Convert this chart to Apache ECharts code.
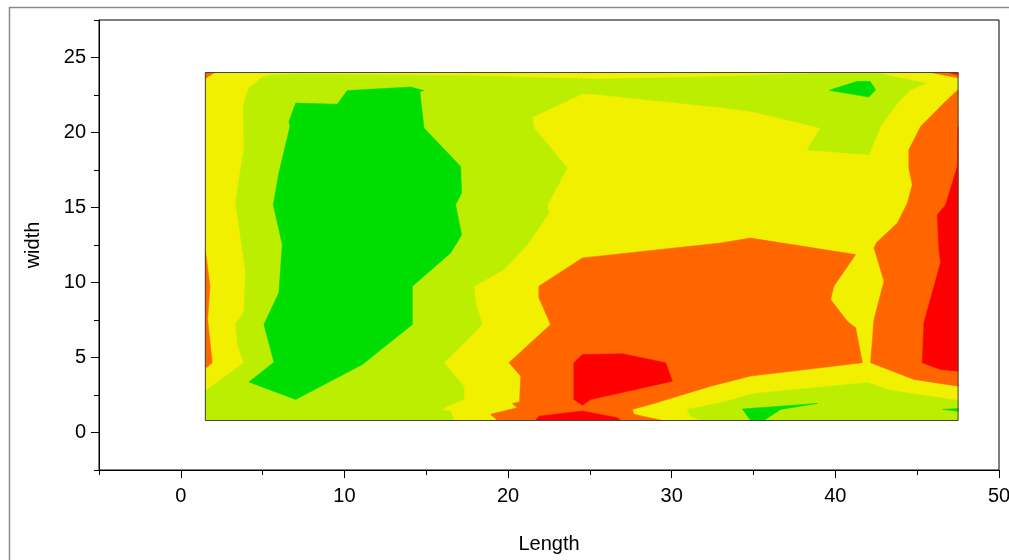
<!DOCTYPE html>
<html>
<head>
<meta charset="utf-8">
<script src="https://cdn.jsdelivr.net/npm/echarts@6/dist/echarts.min.js"></script>
<style>
  html, body { margin: 0; padding: 0; background: #fff; }
  #chart { width: 1009px; height: 560px; }
</style>
</head>
<body>
<div id="chart"></div>
<script>
// tick labels
const xLabels = [0, 10, 20, 30, 40, 50];
const xMinor = [-5, 5, 15, 25, 35, 45];
const yLabels = [0, 5, 10, 15, 20, 25];
const yMinor = [-2.5, 2.5, 7.5, 12.5, 17.5, 22.5, 27.5];

// contour levels, low -> high
const levelColors = ['#00dd00', '#bbee00', '#f0f000', '#ff6600', '#ff0000'];

// filled contour regions, [Length, width] outline points
const plotArea = [[1.5, 0.8], [47.5, 0.8], [47.5, 24], [1.5, 24]];
const lightGreenMain = [
  [1.5, 2.76], [3.86, 4.65], [3.49, 5.75], [3.35, 7.2], [3.86, 8.08], [3.96, 10.75], [3.72, 12.53],
  [3.35, 15.3], [3.65, 17.52], [3.86, 18.85], [3.82, 21.85], [4.16, 22.96], [4.98, 23.69], [5.29, 23.8],
  [7.02, 23.89], [17.71, 23.78], [25.45, 23.56], [32.99, 23.73], [38.49, 23.91], [42.76, 23.91],
  [45.51, 23.29], [44.6, 22.85], [43.79, 21.96], [42.76, 20.4], [42.05, 18.52], [38.29, 18.85],
  [39.1, 20.3], [34.92, 21.4], [32.99, 21.67], [25.24, 22.56], [24.54, 22.58], [21.48, 21.03],
  [21.58, 20.3], [22.19, 19.52], [23.62, 17.63], [22.4, 15.19], [22.49, 14.64], [21.19, 12.53],
  [19.74, 10.86], [17.91, 9.75], [18.02, 8.64], [18.42, 7.2], [17.71, 6.42], [16.08, 4.65],
  [17.3, 3.09], [17.3, 2.2], [16.29, 1.76], [15.88, 1.49], [16.49, 1.43], [16.69, 0.8], [1.5, 0.8]
];
const lightGreenBottomRight = [
  [30.95, 1.54], [32.99, 1.98], [35.02, 2.6], [41.95, 3.32], [43.38, 2.8], [47.5, 2.14],
  [47.5, 0.8], [31.77, 0.8], [31.15, 1.09]
];
const orangeMiddle = [
  [19.36, 0.8], [18.93, 1.21], [20.56, 1.65], [20.26, 1.94], [20.7, 2.04], [20.77, 3.76], [20.05, 4.65],
  [22.6, 7.2], [21.88, 8.98], [21.88, 9.75], [24.54, 11.64], [32.99, 12.64], [34.82, 12.96],
  [41.24, 11.86], [39.91, 9.75], [39.71, 8.86], [40.73, 7.42], [41.24, 6.98], [41.65, 4.65],
  [34.82, 3.76], [32.38, 3.09], [28.71, 1.87], [27.59, 1.54], [27.69, 1.21], [29.44, 0.8]
];
const orangeRight = [
  [47.5, 22.85], [46.63, 21.96], [45.21, 20.4], [44.49, 18.85], [44.49, 17.63], [44.7, 16.52],
  [44.4, 15.3], [43.79, 13.97], [42.52, 12.66], [42.36, 12.31], [42.97, 10.08], [42.36, 7.53],
  [42.15, 4.65], [44.8, 3.54], [47.5, 3.09]
];
const orangeLeftEdge = [[1.5, 12.19], [1.78, 9.75], [1.64, 7.53], [1.92, 4.65], [1.62, 4.36], [1.5, 4.34]];
const orangeTopLeft = [[1.5, 24], [2.07, 24], [1.61, 23.68], [1.5, 23.58]];
const orangeTopRight = [[45.82, 24], [47.5, 24], [47.5, 23.65]];
const redTopRight = [[46.9, 24], [47.5, 24], [47.5, 23.85]];
const redMiddle = [
  [24.54, 5.2], [26.98, 5.25], [29.63, 4.65], [30.04, 3.42], [25.04, 2.2], [24.54, 1.82],
  [24.02, 2.2], [24.02, 4.65]
];
const redBottom = [[21.68, 0.8], [21.88, 1.09], [24.54, 1.43], [26.67, 0.99], [26.88, 0.8]];
const redRight = [
  [47.5, 20.4], [47.45, 17.74], [46.74, 15.19], [46.23, 14.52], [46.33, 12.19], [46.43, 11.33],
  [45.41, 7.31], [45.31, 4.65], [46.43, 4.2], [47.5, 4.09]
];
const greenCore = [
  [7.02, 21.96], [9.56, 21.89], [10.17, 22.8], [14.04, 23.03], [14.86, 22.8], [14.61, 22.73],
  [14.86, 20.3], [17.1, 17.74], [17.16, 15.97], [16.79, 15.19], [17.16, 13.19], [16.99, 12.86],
  [16.49, 11.97], [14.15, 9.75], [14.15, 7.2], [11.09, 4.53], [7.02, 2.2], [4.16, 3.36],
  [5.69, 4.69], [5.08, 7.2], [5.99, 9.31], [6.2, 12.53], [5.65, 15.19], [5.99, 17.3],
  [6.67, 20.4], [6.61, 20.74]
];
const greenTopRight = [[39.61, 22.81], [41.34, 23.41], [42.12, 23.41], [42.46, 22.85], [42.05, 22.36]];
const greenBottom = [[34.31, 1.57], [38.9, 1.94], [36.65, 1.54], [35.63, 0.8], [34.82, 0.8]];
const greenBottomRight = [[46.55, 1.54], [47.5, 1.6], [47.5, 1.41]];

// drawing order: [level index, outline]
const layers = [
  [2, plotArea],
  [1, lightGreenMain],
  [1, lightGreenBottomRight],
  [3, orangeMiddle],
  [3, orangeRight],
  [3, orangeLeftEdge],
  [3, orangeTopLeft],
  [3, orangeTopRight],
  [4, redTopRight],
  [4, redMiddle],
  [4, redBottom],
  [4, redRight],
  [0, greenCore],
  [0, greenTopRight],
  [0, greenBottom],
  [0, greenBottomRight],
  [-1, plotArea] // frame
];

const labelFont = { fontSize: 20, color: '#000', fontFamily: 'Liberation Sans, Arial, sans-serif' };

const chart = echarts.init(document.getElementById('chart'));
const option = {
  animation: false,
  backgroundColor: '#fff',
  graphic: [
    {
      type: 'rect',
      left: 7, top: 5,
      shape: { width: 1100, height: 700 },
      style: { fill: 'none', stroke: '#8c8c8c', lineWidth: 1.5 },
      silent: true
    }
  ],
  grid: {
    left: 99, top: 20, width: 900, height: 450,
    containLabel: false, outerBoundsMode: 'none',
    show: true, borderColor: '#000', borderWidth: 1, backgroundColor: '#fff'
  },
  xAxis: [
    {
      type: 'value', min: -5, max: 50, position: 'bottom',
      name: 'Length', nameLocation: 'middle', nameGap: 64,
      nameTextStyle: labelFont,
      axisLine: { onZero: false, lineStyle: { color: '#000', width: 1 } },
      axisTick: { customValues: xLabels, length: 8, lineStyle: { color: '#000' } },
      axisLabel: Object.assign({ customValues: xLabels, margin: 16 }, labelFont),
      splitLine: { show: false }
    },
    {
      type: 'value', min: -5, max: 50, position: 'bottom',
      axisLine: { show: false, onZero: false },
      axisTick: { customValues: xMinor, length: 5, lineStyle: { color: '#000' } },
      axisLabel: { show: false },
      splitLine: { show: false }
    }
  ],
  yAxis: [
    {
      type: 'value', min: -2.5, max: 27.5, position: 'left',
      name: 'width', nameLocation: 'middle', nameGap: 56,
      nameTextStyle: labelFont,
      axisLine: { show: true, onZero: false, lineStyle: { color: '#000', width: 1 } },
      axisTick: { show: true, customValues: yLabels, length: 8, lineStyle: { color: '#000' } },
      axisLabel: Object.assign({ customValues: yLabels, margin: 13 }, labelFont),
      splitLine: { show: false }
    },
    {
      type: 'value', min: -2.5, max: 27.5, position: 'left',
      axisLine: { show: false, onZero: false },
      axisTick: { show: true, customValues: yMinor, length: 5, lineStyle: { color: '#000' } },
      axisLabel: { show: false },
      splitLine: { show: false }
    }
  ],
  series: [
    {
      type: 'custom',
      xAxisIndex: 0,
      yAxisIndex: 0,
      silent: true,
      encode: { x: 0, y: 1 },
      data: layers.map((l) => l[1][0]),
      renderItem: function (params, api) {
        const layer = layers[params.dataIndex];
        const pts = layer[1].map((p) => api.coord(p));
        if (layer[0] < 0) {
          return {
            type: 'polygon',
            shape: { points: pts },
            style: { fill: 'none', stroke: '#444', lineWidth: 1 }
          };
        }
        return {
          type: 'polygon',
          shape: { points: pts },
          style: { fill: levelColors[layer[0]], stroke: levelColors[layer[0]], lineWidth: 0.5 }
        };
      }
    }
  ]
};
chart.setOption(option);
</script>
</body>
</html>
